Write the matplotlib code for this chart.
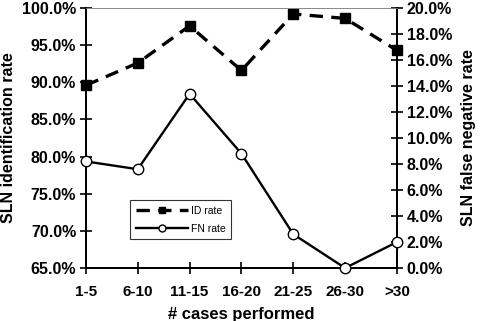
import matplotlib
matplotlib.use("Agg")
import matplotlib.pyplot as plt
from matplotlib.ticker import FuncFormatter

categories = ["1-5", "6-10", "11-15", "16-20", "21-25", "26-30", ">30"]
id_rate = [89.6, 92.6, 97.6, 91.6, 99.2, 98.6, 94.3]
fn_rate = [8.2, 7.6, 13.4, 8.8, 2.6, 0.0, 2.0]
left_ticks = [65, 70, 75, 80, 85, 90, 95, 100]
right_ticks = [0, 2, 4, 6, 8, 10, 12, 14, 16, 18, 20]

plt.rcParams['font.family'] = ['Liberation Sans', 'DejaVu Sans']
plt.rcParams['font.weight'] = 'bold'

fig = plt.figure(figsize=(4.8, 3.21), dpi=100)
ax = fig.add_axes([0.179, 0.165, 0.648, 0.81])
ax2 = ax.twinx()

x = list(range(len(categories)))
l1, = ax.plot(x, id_rate, color='black', lw=2.4, ls=(0, (4, 2.5)), marker='s',
              ms=7, mfc='black', mec='black', label='ID rate', clip_on=False, zorder=3)
l2, = ax2.plot(x, fn_rate, color='black', lw=1.7, marker='o', ms=7.5,
               mfc='white', mec='black', mew=1, label='FN rate', clip_on=False, zorder=3)

ax.set_xlim(0, 6)
ax.set_ylim(65, 100)
ax2.set_ylim(0, 20)
ax.set_yticks(left_ticks)
ax2.set_yticks(right_ticks)
ax.yaxis.set_major_formatter(FuncFormatter(lambda v, p: f"{v:.1f}%"))
ax2.yaxis.set_major_formatter(FuncFormatter(lambda v, p: f"{v:.1f}%"))
ax.set_xticks(x)
ax.set_xticklabels(categories)

for a in (ax, ax2):
    a.tick_params(direction='inout', length=8, width=1.2, labelsize=11.5, colors='black')
    for s in ['left', 'right', 'bottom']:
        a.spines[s].set_linewidth(1.4)
    a.spines['top'].set_linewidth(0.6)
    a.spines['top'].set_color('#888888')
ax.tick_params(axis='x', pad=8, labelsize=11)
ax.tick_params(axis='y', pad=3)
ax2.tick_params(axis='y', pad=3)
ax.set_ylabel('SLN identification rate', fontsize=11.5, fontweight='bold', labelpad=4)
ax2.set_ylabel('SLN false negative rate', fontsize=11.5, fontweight='bold', labelpad=6)
ax.set_xlabel('# cases performed', fontsize=12, fontweight='bold', labelpad=6)

leg = ax2.legend(handles=[l1, l2], loc='lower left', bbox_to_anchor=(0.141, 0.11),
                 frameon=True, fancybox=False, edgecolor='black',
                 handlelength=5.0, handletextpad=0.3, borderpad=0.55, labelspacing=0.75,
                 borderaxespad=0, prop={'weight': 'normal', 'size': 7.5})
leg.get_frame().set_linewidth(0.8)
for h in leg.legend_handles:
    h.set_markersize(5)

fig.savefig('out.png', dpi=100)
